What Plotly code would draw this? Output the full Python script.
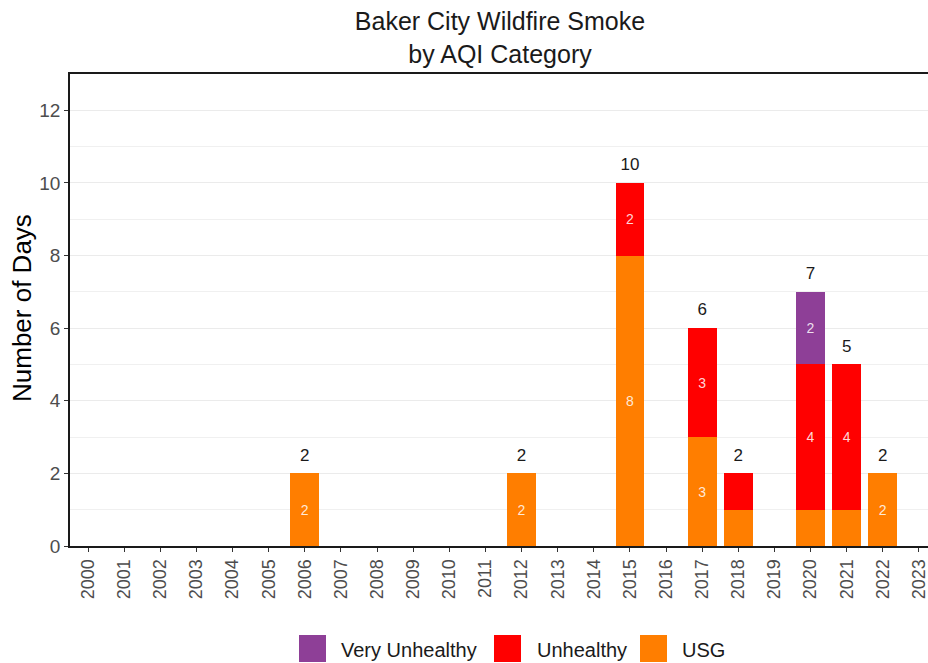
import plotly.graph_objects as go

years = list(range(2000, 2024))
bar_years = [2006, 2012, 2015, 2017, 2018, 2020, 2021, 2022]
usg = [2, 2, 8, 3, 1, 1, 1, 2]
unhealthy = [0, 0, 2, 3, 1, 4, 4, 0]
very_unhealthy = [0, 0, 0, 0, 0, 2, 0, 0]
totals = [2, 2, 10, 6, 2, 7, 5, 2]

categories = ["Very Unhealthy", "Unhealthy", "USG"]
colors = {"Very Unhealthy": "#8E3F97", "Unhealthy": "#FF0000", "USG": "#FF7E00"}

W, H = 928, 663
ML, MR, MT, MB = 70, 0, 74, 117
PW, PH = W - ML - MR, H - MT - MB
FONT = "Liberation Sans, Arial, sans-serif"


def px_x(x):
    return (x - ML) / PW


def px_y(y):
    return (H - MB - y) / PH


fig = go.Figure()

series = [("USG", usg), ("Unhealthy", unhealthy), ("Very Unhealthy", very_unhealthy)]
for name, vals in series:
    yv = [v if v > 0 else None for v in vals]
    txt = [str(v) if v >= 2 else "" for v in vals]
    fig.add_trace(go.Bar(
        x=bar_years, y=yv, name=name, marker_color=colors[name],
        marker_line_width=0, width=0.8,
        text=txt, textposition="inside", insidetextanchor="middle",
        textangle=0, constraintext="none",
        textfont=dict(color="rgba(255,255,255,0.85)", size=14, family=FONT),
        showlegend=False, hoverinfo="x+y+name",
    ))

fig.add_trace(go.Scatter(
    x=bar_years, y=[t + 0.47 for t in totals], mode="text",
    text=[str(t) for t in totals], textposition="middle center",
    textfont=dict(color="#1a1a1a", size=17, family=FONT),
    showlegend=False, hoverinfo="skip",
))

# Custom legend (large square keys like ggplot)
legend_items = [("Very Unhealthy", 299, 339), ("Unhealthy", 494, 535), ("USG", 640, 680)]
for name, kx, tx in legend_items:
    fig.add_shape(type="rect", xref="paper", yref="paper",
                  x0=px_x(kx), x1=px_x(kx + 27), y0=px_y(662), y1=px_y(635),
                  fillcolor=colors[name], line_width=0, layer="above")
    fig.add_annotation(xref="paper", yref="paper", x=px_x(tx), y=px_y(650),
                       text=name, showarrow=False, xanchor="left", yanchor="middle",
                       font=dict(size=20, color="#1a1a1a", family=FONT))

# y-axis title
fig.add_annotation(xref="paper", yref="paper", x=px_x(22), y=px_y(308),
                   text="Number of Days", textangle=-90, showarrow=False,
                   xanchor="center", yanchor="middle",
                   font=dict(size=26, color="#000000", family=FONT))

fig.update_layout(
    width=W, height=H,
    margin=dict(l=ML, r=MR, t=MT, b=MB, autoexpand=False),
    barmode="stack",
    plot_bgcolor="white", paper_bgcolor="white",
    font=dict(family=FONT, color="#1a1a1a"),
    title=dict(text="Baker City Wildfire Smoke<br>by AQI Category",
               x=px_x(500), xref="paper", xanchor="center",
               y=(H - 30) / H, yref="container", yanchor="middle",
               font=dict(size=25, color="#1a1a1a")),
)

fig.update_xaxes(
    range=[1999.5, 2023.25], tickvals=years, ticktext=[str(y) for y in years],
    tickangle=-90, tickfont=dict(size=18, color="#4d4d4d"),
    ticks="outside", ticklen=4, tickcolor="#333333", tickwidth=1,
    ticklabeloverflow="allow",
    showgrid=False, zeroline=False, automargin=False,
    showline=True, linecolor="#1a1a1a", linewidth=2, mirror=True,
)
fig.update_yaxes(
    range=[0, 13], tickvals=[0, 2, 4, 6, 8, 10, 12],
    tickfont=dict(size=19, color="#4d4d4d"),
    ticks="outside", ticklen=4, tickcolor="#333333", tickwidth=1,
    showgrid=True, gridcolor="#ebebeb", gridwidth=1,
    minor=dict(dtick=1, showgrid=True, gridcolor="#f0f0f0", gridwidth=1, ticks=""),
    zeroline=False, showline=True, linecolor="#1a1a1a", linewidth=1.5,
    automargin=False,
)

fig.write_html(
    "out.html",
    config={"displayModeBar": False},
    post_script="document.body.style.margin='0';document.documentElement.style.overflow='hidden';",
)
